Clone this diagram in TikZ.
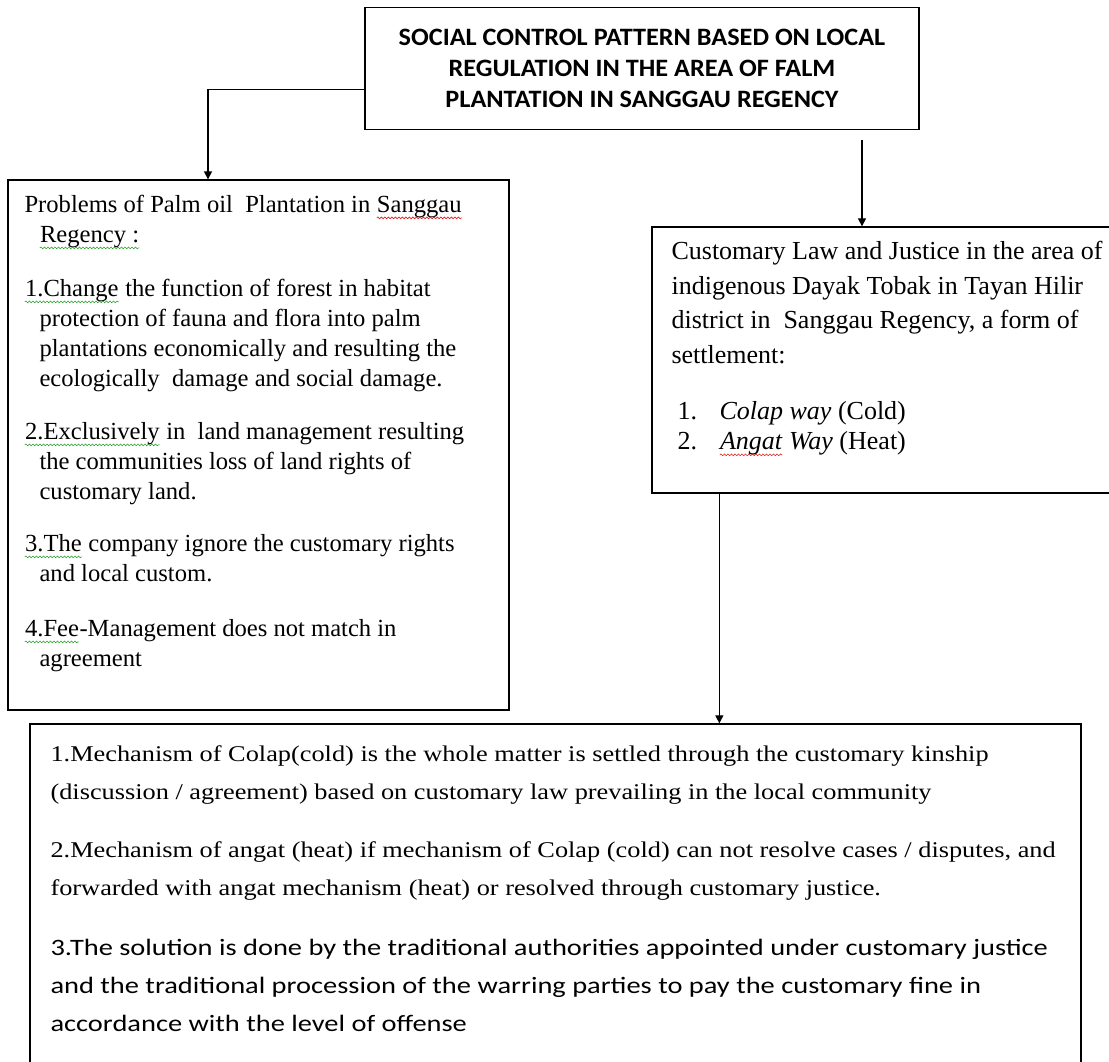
\documentclass[tikz,border=0pt]{standalone}
\usepackage{fontspec}
\setmainfont{Liberation Serif}
\newfontfamily\headfont[FakeStretch=1.05]{Carlito}
\newfontfamily\wideserif[FakeStretch=1.17]{Liberation Serif}
\newfontfamily\widesans[FakeStretch=1.21]{Carlito}
\usetikzlibrary{arrows.meta,positioning,decorations.pathmorphing}
\definecolor{spellred}{RGB}{225,30,30}
\definecolor{gramgreen}{RGB}{40,160,40}
% wavy underlines of the word processor
\newcommand{\wavy}[2]{\tikz[baseline=(w.base)]{\node[inner sep=0pt] (w) {#2}; \draw[#1, line width=0.6pt, decorate, decoration={snake, amplitude=0.9pt, segment length=3.5pt}] ([yshift=-5pt]w.base west) -- ([yshift=-5pt]w.base east);}}
\newcommand{\spellwave}[1]{\wavy{spellred}{#1}}
\newcommand{\gramwave}[1]{\wavy{gramgreen}{#1}}
\newcommand{\sansline}{\widesans\fontsize{23.5}{38}\selectfont}

\begin{document}
\begin{tikzpicture}[x=1pt, y=-1pt, >={Triangle[length=8pt,width=8pt]},
	box/.style={draw, line width=1.3pt, inner sep=0pt},
	txt/.style={inner sep=0pt, anchor=north west, align=left},
	link/.style={->, line width=1.1pt}]
	\useasboundingbox (0,0) rectangle (1109,1061);
	% boxes
	\node[box, minimum width=554pt, minimum height=122pt, align=center, font=\headfont\bfseries\fontsize{25}{31}\selectfont] (title) at (642,68.5) {SOCIAL CONTROL PATTERN BASED ON LOCAL\\REGULATION IN THE AREA OF FALM\\PLANTATION IN SANGGAU REGENCY};
	\node[box, minimum width=501pt, minimum height=530pt] (problems) at (258.5,445) {};
	\node[box, minimum width=460pt, minimum height=266pt] (custom) at (882,360) {};
	\node[box, minimum width=1051pt, minimum height=342pt] (mechanism) at (555.5,895) {};
	% texts
	\node[txt, font=\fontsize{24.6}{30}\selectfont] (problems-txt) at ([xshift=17pt,yshift=-16pt]problems.north west) {Problems of Palm oil\ \ Plantation in \spellwave{Sanggau}\\
		\hspace*{15pt}\gramwave{Regency :}\\[24pt]
		\gramwave{1.Change} the function of forest in habitat\\
		\hspace*{15pt}protection of fauna and flora into palm\\
		\hspace*{15pt}plantations economically and resulting the\\
		\hspace*{15pt}ecologically\ \ damage and social damage.\\[23pt]
		\gramwave{2.Exclusively} in\ \ land management resulting\\
		\hspace*{15pt}the communities loss of land rights of\\
		\hspace*{15pt}customary land.\\[22pt]
		\gramwave{3.The} company ignore the customary rights\\
		\hspace*{15pt}and local custom.\\[25pt]
		\gramwave{4.Fee}-Management does not match in\\
		\hspace*{15pt}agreement};
	\node[txt, font=\fontsize{26}{34.5}\selectfont] (custom-txt) at ([xshift=20pt,yshift=-15pt]custom.north west) {Customary Law and Justice in the area of\\
		indigenous Dayak Tobak in Tayan Hilir\\
		district in\ \ Sanggau Regency, a form of\\
		settlement:\\[22pt]
		\hspace*{6pt}\makebox[42pt][l]{1.}\textit{Colap way} (Cold)\\[-4.5pt]
		\hspace*{6pt}\makebox[42pt][l]{2.}\textit{\spellwave{Angat} Way} (Heat)};
	\node[txt, font=\wideserif\fontsize{22.5}{38}\selectfont] (mechanism-txt) at ([xshift=21pt,yshift=-22pt]mechanism.north west) {1.Mechanism of Colap(cold) is the whole matter is settled through the customary kinship\\
		(discussion / agreement) based on customary law prevailing in the local community\\[20pt]
		2.Mechanism of angat (heat) if mechanism of Colap (cold) can not resolve cases / disputes, and\\
		forwarded with angat mechanism (heat) or resolved through customary justice.\\[22pt]
		\sansline 3.The solution is done by the traditional authorities appointed under customary justice\\
		\sansline and the traditional procession of the warring parties to pay the customary fine in\\
		\sansline accordance with the level of offense};
	% connectors
	\coordinate (t1) at ([yshift=40.5pt]title.south west);
	\coordinate (t2) at ([xshift=220pt,yshift=-10pt]title.south);
	\coordinate (c3) at ([xshift=68pt]custom.south west);
	\draw[link] (t1) -| ([xshift=-50.5pt]problems.north);
	\draw[link] (t2) -- (t2 |- custom.north);
	\draw[link] (c3) -- (c3 |- mechanism.north);
\end{tikzpicture}
\end{document}
